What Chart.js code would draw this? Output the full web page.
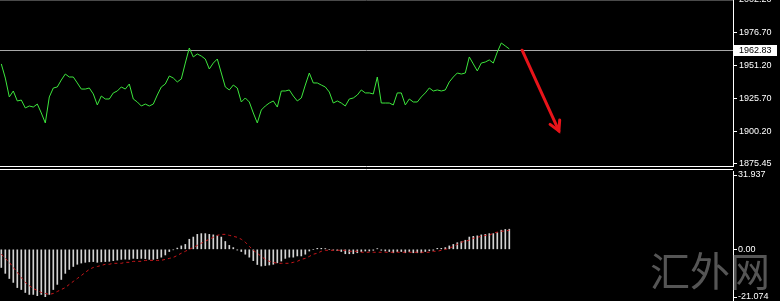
<!DOCTYPE html>
<html><head><meta charset="utf-8">
<script src="https://cdn.jsdelivr.net/npm/chart.js@4.4.1/dist/chart.umd.min.js"></script>
<style>
html,body{margin:0;padding:0;background:#000;width:780px;height:301px;overflow:hidden;}
#wrap{position:relative;width:780px;height:301px;background:#000;}
canvas{position:absolute;left:0;}
#top{top:0;}
#bot{top:168px;}
#wm{position:absolute;left:650px;top:249px;font-family:"Noto Sans CJK SC";font-size:40px;line-height:40px;color:rgba(125,125,125,0.68);white-space:nowrap;pointer-events:none;}
</style></head>
<body><div id="wrap"><canvas id="top" width="780" height="168"></canvas><canvas id="bot" width="780" height="133"></canvas><div id="wm">汇外网</div></div>
<script>
// ---- data ----
const price = [1952.4,1941.5,1926.9,1931.5,1923.8,1924.5,1918.4,1919.9,1919.1,1921.4,
1914.5,1906.8,1926.9,1933.8,1934.6,1940.0,1944.6,1942.3,1942.3,1937.7,
1933.0,1933.0,1933.8,1929.2,1920.7,1927.6,1925.3,1925.3,1930.0,1931.5,
1934.6,1933.0,1936.9,1925.3,1923.0,1919.9,1921.4,1919.9,1921.4,1928.4,
1934.6,1936.9,1943.1,1941.5,1938.5,1940.8,1953.1,1964.7,1957.8,1960.1,
1958.5,1956.2,1948.5,1953.1,1956.2,1945.4,1934.6,1932.3,1936.1,1933.8,
1923.0,1926.1,1923.0,1914.5,1906.8,1916.8,1919.9,1922.2,1923.8,1919.1,
1931.5,1931.5,1932.3,1927.6,1923.8,1926.1,1936.1,1945.4,1937.7,1937.7,
1936.1,1934.6,1930.7,1922.2,1923.8,1922.2,1919.9,1925.3,1926.1,1928.4,
1932.3,1930.0,1930.0,1929.2,1942.3,1922.2,1922.2,1922.2,1920.7,1930.0,
1930.0,1920.7,1925.3,1923.0,1923.0,1926.9,1930.0,1933.8,1931.5,1932.3,
1931.5,1932.3,1938.5,1942.3,1945.4,1944.6,1945.4,1957.8,1952.4,1947.0,
1953.1,1953.9,1955.5,1953.1,1961.6,1968.6,1966.3,1964.0];

const macd = [-7.4,-9.8,-11.9,-13.5,-15.6,-16.4,-17.6,-18.4,-18.4,-18.9,-18.4,-19.3,
-18.4,-16.4,-14.3,-12.3,-9.8,-8.2,-7.0,-6.1,
-5.6,-5.3,-5.1,-5.0,-5.3,-5.1,-5.0,-4.9,-4.6,-4.4,-4.1,-4.0,-4.1,
-3.7,-3.8,-3.7,-3.8,-4.1,-4.1,-3.8,-3.2,-2.3,-0.9,-0.2,
0.5,1.4,2.0,4.1,5.0,6.1,6.4,6.4,6.1,5.9,5.5,5.0,3.2,1.6,0.7,-0.3,-0.9,-2.0,-3.2,-4.6,-6.2,
-6.8,-6.6,-6.4,-6.1,-5.5,-4.8,-3.7,-3.2,-3.2,-2.7,-2.7,-2.0,-0.7,
0.0,0.4,0.4,0.3,0.0,-0.3,-0.5,-0.9,-1.8,-1.8,-1.8,-1.4,-0.9,-0.7,-0.7,-0.4,
0.3,-0.4,-0.7,-0.9,-1.4,-0.9,-0.9,-1.4,-0.9,-1.4,-1.4,-1.4,-0.9,-0.6,-0.4,
0.4,0.4,0.7,1.4,2.0,2.7,3.1,3.7,5.0,5.3,5.5,5.9,6.1,6.4,6.4,6.8,7.8,8.1,8.2];

const signal = [-2.0,-3.7,-5.3,-7.4,-9.4,-11.5,-13.5,-14.8,-16.0,-16.8,
-17.6,-18.0,-18.4,-18.0,-17.2,-16.4,-15.6,-14.3,-13.1,-11.9,
-10.7,-9.4,-8.2,-7.4,-7.0,-6.6,-6.1,-6.1,-5.7,-5.7,
-5.7,-5.3,-5.3,-4.9,-4.9,-4.9,-4.5,-4.5,-4.5,-4.5,
-4.5,-4.1,-3.7,-3.3,-2.5,-1.6,-0.8,0.0,0.8,1.6,
2.5,3.3,4.1,4.9,5.7,6.1,6.1,5.7,5.3,4.9,
4.1,2.9,1.2,-0.4,-1.6,-2.9,-4.1,-4.9,-5.3,-5.7,
-5.7,-5.7,-5.7,-5.3,-4.9,-4.1,-3.7,-2.9,-2.0,-1.6,
-0.8,-0.4,-0.4,-0.4,-0.4,-0.4,-0.4,-0.8,-0.8,-0.8,
-1.2,-1.2,-1.2,-1.2,-1.2,-1.2,-1.2,-1.2,-1.2,-1.2,
-1.2,-1.2,-1.2,-1.2,-1.2,-1.2,-1.2,-1.2,-0.8,-0.8,
-0.4,0.0,0.4,1.2,2.0,2.9,3.3,3.7,4.5,4.9,
5.3,5.7,5.7,6.6,7.0,7.4,7.4,7.8];

const priceTicks = [1875.45, 1900.20, 1925.70, 1951.20, 1976.70, 2002.20];
const macdTicks = [-21.074, 0, 31.937];
const macdTickLabels = ['-21.074', '0.00', '31.937'];
const currentPrice = 1962.83;
const arrowFrom = {x: 130.2, y: 1963.0};
const arrowTo = {x: 139.4, y: 1900.6};

// ---- view settings ----
const xMin = -0.325, xMax = 182.925;
const priceMin = 1873.53, priceMax = 2001.82;
const macdMin = -21.074, macdMax = 31.937;
const axisWidth = 47;
const tickFont = {family: 'Liberation Sans', size: 9};

const topDecor = {
  id: 'topDecor',
  beforeDatasetsDraw(chart) {
    const {ctx, chartArea: a, scales: {y}} = chart;
    ctx.save();
    const py = Math.round(y.getPixelForValue(currentPrice)) + 0.5;
    ctx.strokeStyle = '#a8a8a8'; ctx.lineWidth = 1;
    ctx.beginPath(); ctx.moveTo(a.left, py); ctx.lineTo(a.right, py); ctx.stroke();
    ctx.strokeStyle = '#4a4a4a';
    ctx.beginPath(); ctx.moveTo(a.left, 0.5); ctx.lineTo(a.right, 0.5); ctx.stroke();
    ctx.restore();
  },
  afterDraw(chart) {
    const {ctx, chartArea: a, scales: {x, y}} = chart;
    ctx.save();
    ctx.strokeStyle = '#ffffff'; ctx.lineWidth = 1;
    ctx.beginPath(); ctx.moveTo(a.left, a.bottom + 0.5); ctx.lineTo(a.right, a.bottom + 0.5); ctx.stroke();
    const x1 = x.getPixelForValue(arrowFrom.x), y1 = y.getPixelForValue(arrowFrom.y);
    const x2 = x.getPixelForValue(arrowTo.x), y2 = y.getPixelForValue(arrowTo.y);
    ctx.strokeStyle = '#e8141a'; ctx.lineWidth = 3; ctx.lineCap = 'round';
    ctx.beginPath(); ctx.moveTo(x1, y1); ctx.lineTo(x2, y2); ctx.stroke();
    const ang = Math.atan2(y2 - y1, x2 - x1), hl = 11, sp = 0.5;
    ctx.beginPath();
    ctx.moveTo(x2 - hl * Math.cos(ang - sp), y2 - hl * Math.sin(ang - sp));
    ctx.lineTo(x2, y2);
    ctx.lineTo(x2 - hl * Math.cos(ang + sp), y2 - hl * Math.sin(ang + sp));
    ctx.stroke();
    const py = Math.round(y.getPixelForValue(currentPrice));
    ctx.fillStyle = '#ffffff';
    ctx.fillRect(a.right + 1, py - 5, 43, 11);
    ctx.fillStyle = '#000000';
    ctx.font = tickFont.size + 'px ' + tickFont.family;
    ctx.textBaseline = 'middle'; ctx.textAlign = 'left';
    ctx.fillText(currentPrice.toFixed(2), a.right + 6, py + 0.5);
    ctx.restore();
  }
};

const botDecor = {
  id: 'botDecor',
  afterDraw(chart) {
    const {ctx, chartArea: a} = chart;
    ctx.save();
    ctx.strokeStyle = '#ffffff'; ctx.lineWidth = 1;
    ctx.beginPath(); ctx.moveTo(a.left, a.top - 1.5); ctx.lineTo(a.right, a.top - 1.5); ctx.stroke();
    ctx.restore();
  }
};

function yAxis(min, max, ticks, labelFn, inset, pad) {
  return {
    position: 'right', min, max,
    afterBuildTicks: s => { s.ticks = ticks.map(v => ({value: v})); },
    afterFit: s => {
      s.width = axisWidth; s.paddingTop = 0; s.paddingBottom = 0;
      if (inset && !s._inset) {
        const f = s.getPixelForTick.bind(s);
        s.getPixelForTick = i => Math.min(Math.max(f(i), s.top + inset), s.bottom - inset);
        s._inset = true;
      }
    },
    ticks: {color: '#ffffff', font: tickFont, padding: pad, autoSkip: false, callback: labelFn},
    grid: {drawOnChartArea: false, drawTicks: true, tickLength: 4, color: '#ffffff'},
    border: {display: true, color: '#ffffff', width: 1}
  };
}

const common = {
  responsive: false, animation: false, devicePixelRatio: 1,
  plugins: {legend: {display: false}, tooltip: {enabled: false}},
  events: []
};

new Chart(document.getElementById('top'), {
  type: 'line',
  data: {datasets: [{
    data: price.map((v, i) => ({x: i, y: v})),
    borderColor: '#3ce63c', borderWidth: 1, pointRadius: 0, tension: 0, fill: false
  }]},
  options: Object.assign({}, common, {
    layout: {padding: {top: 0, left: 0, right: 0, bottom: 2}},
    scales: {
      x: {type: 'linear', display: false, min: xMin, max: xMax, offset: false},
      y: yAxis(priceMin, priceMax, priceTicks, v => Number(v).toFixed(2), 0, 2)
    }
  }),
  plugins: [topDecor]
});

new Chart(document.getElementById('bot'), {
  type: 'bar',
  data: {datasets: [
    {type: 'line', data: signal.map((v, i) => ({x: i, y: v})), borderColor: '#c8161a', borderWidth: 1,
     borderDash: [3, 3], pointRadius: 0, tension: 0, fill: false, order: 0},
    {type: 'bar', data: macd.map((v, i) => ({x: i, y: v})), backgroundColor: '#d4d4d4',
     barThickness: 1, borderWidth: 0, order: 1}
  ]},
  options: Object.assign({}, common, {
    layout: {padding: {top: 3, left: 0, right: 0, bottom: 0}},
    scales: {
      x: {type: 'linear', display: false, min: xMin, max: xMax, offset: false},
      y: yAxis(macdMin, macdMax, macdTicks, (v, i) => macdTickLabels[i], 4, 1)
    }
  }),
  plugins: [botDecor]
});
</script></body></html>
